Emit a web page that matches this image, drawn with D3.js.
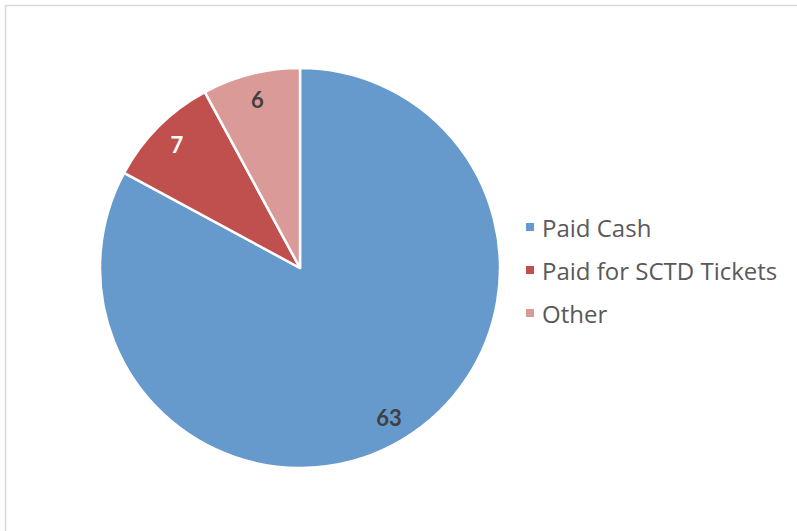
<!DOCTYPE html>
<html>
<head>
<meta charset="utf-8">
<script src="https://cdn.jsdelivr.net/npm/d3@7"></script>
<style>
  html, body { margin: 0; padding: 0; background: #fff; }
  svg { display: block; }
</style>
</head>
<body>
<svg id="chart" width="797" height="531"></svg>
<script>
// Payment categories and counts
const categories = ["Paid Cash", "Paid for SCTD Tickets", "Other"];
const counts = [63, 7, 6];
const colors = ["#6699CC", "#C0504D", "#D99A98"];
const labelColors = ["#404040", "#ffffff", "#404040"];

const svg = d3.select("#chart");
const W = 797, H = 531;

// Chart area frame (extends past right/bottom edges)
svg.append("rect")
  .attr("x", 5.5).attr("y", 5.5)
  .attr("width", W + 10).attr("height", H + 10)
  .attr("fill", "#fff")
  .attr("stroke", "#d9d9d9")
  .attr("stroke-width", 1.5);

const cx = 300, cy = 268, R = 200;
const data = categories.map((c, i) => ({ name: c, value: counts[i], color: colors[i], label: labelColors[i] }));

const pie = d3.pie().value(d => d.value).sort(null);
const arc = d3.arc().innerRadius(0).outerRadius(R);
const labelArc = d3.arc().innerRadius(174).outerRadius(174);

const g = svg.append("g").attr("transform", `translate(${cx},${cy})`);
const arcs = pie(data);

g.selectAll("path.slice")
  .data(arcs)
  .join("path")
  .attr("class", "slice")
  .attr("d", arc)
  .attr("fill", d => d.data.color)
  .attr("stroke", "#fff")
  .attr("stroke-width", 2.5)
  .attr("stroke-linejoin", "round");

g.selectAll("text.val")
  .data(arcs)
  .join("text")
  .attr("class", "val")
  .attr("transform", d => `translate(${labelArc.centroid(d)})`)
  .attr("text-anchor", "middle")
  .attr("dominant-baseline", "central")
  .attr("font-family", "Lato, 'Open Sans', sans-serif")
  .attr("font-weight", "bold")
  .attr("font-size", 22)
  .attr("fill", d => d.data.label)
  .text(d => d.data.value);

// Legend
const legend = svg.append("g").attr("transform", "translate(526,227)");
const item = legend.selectAll("g")
  .data(data)
  .join("g")
  .attr("transform", (d, i) => `translate(0,${i * 43})`);

item.append("rect")
  .attr("x", 0).attr("y", -4)
  .attr("width", 8).attr("height", 8)
  .attr("fill", d => d.color);

item.append("text")
  .attr("x", 16).attr("y", 0)
  .attr("dominant-baseline", "central")
  .attr("font-family", "'Open Sans', sans-serif")
  .attr("font-size", 24)
  .attr("fill", "#595959")
  .text(d => d.name);
</script>
</body>
</html>
